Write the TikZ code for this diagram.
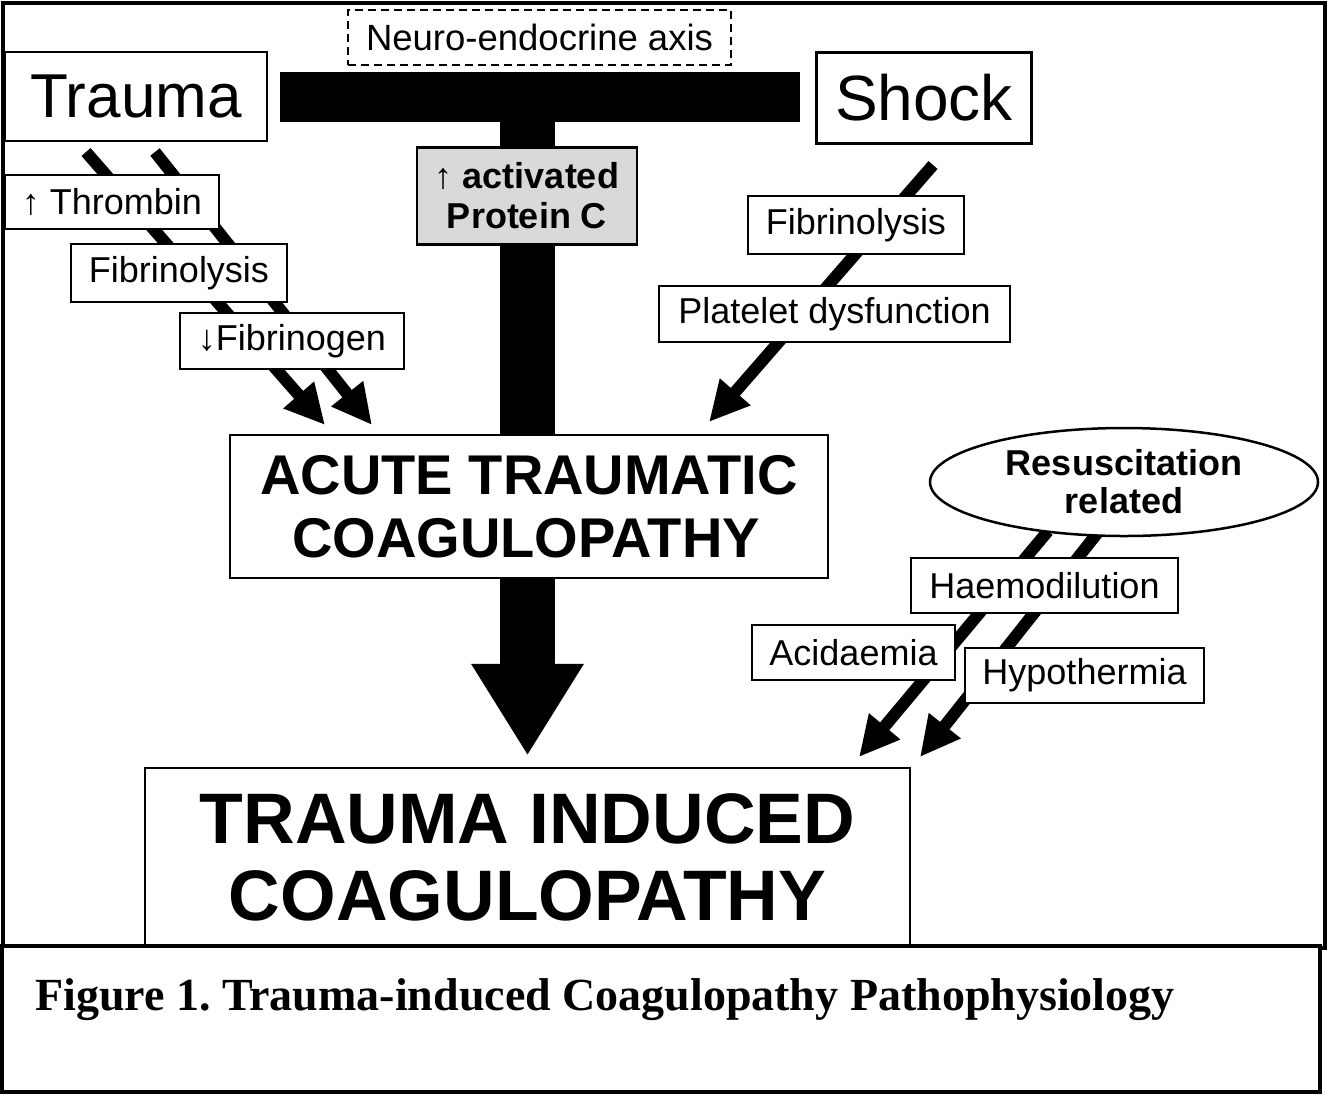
\documentclass[tikz,border=0pt]{standalone}
\usepackage{fontspec}
\setmainfont{Liberation Sans}
\newfontfamily\capfont{Liberation Serif}
\usetikzlibrary{arrows.meta,shapes.geometric,backgrounds}
\frenchspacing

\tikzset{
  box/.style={draw, fill=white, line width=2.5pt, inner sep=0pt, align=center},
  small/.style={box, font=\fontsize{36}{40}\selectfont},
  fatarrow/.style={line width=12pt, -{Triangle[length=40pt,width=38pt]}},
}

\begin{document}
\begin{tikzpicture}[x=1pt, y=-1pt]
  \useasboundingbox (0,0) rectangle (1329,1096);
  \draw[line width=4pt] (3,3) rectangle (1325,948);

  % top row
  \node[box, dash pattern=on 8pt off 5pt, line width=2pt, minimum width=383pt, minimum height=55pt,
        font=\fontsize{36.5}{40}\selectfont] (neuro) at (539.5,37.5) {Neuro-endocrine axis};
  \node[box, minimum width=262pt, minimum height=89pt, font=\fontsize{62}{70}\selectfont] (trauma) at (136,96.5) {Trauma};
  \node[box, minimum width=215pt, minimum height=91pt, font=\fontsize{64}{70}\selectfont] (shock) at (924,98) {Shock};
  \node[fill=black, inner sep=0pt, minimum width=520pt, minimum height=50pt] (axisbar) at (540,97) {};
  \node[box, fill=gray!30, minimum width=220pt, minimum height=97pt,
        font=\bfseries\fontsize{36}{40}\selectfont] (protc) at (527,196) {↑ activated\\Protein C};

  % trauma side
  \node[small, minimum width=214pt, minimum height=54pt] (thrombin) at (112,202) {↑ Thrombin};
  \node[small, minimum width=216pt, minimum height=58pt] (fibl) at (179,273) {Fibrinolysis};
  \node[small, minimum width=224pt, minimum height=56pt] (fibg) at (292,341) {↓Fibrinogen};

  % shock side
  \node[small, minimum width=216pt, minimum height=58pt] (fibr) at (856,225) {Fibrinolysis};
  \node[small, minimum width=351pt, minimum height=56pt] (platelet) at (834.5,314) {Platelet dysfunction};

  \node[box, minimum width=598pt, minimum height=143pt, font=\bfseries\fontsize{56}{63}\selectfont] (acute) at (529,506.5) {ACUTE TRAUMATIC\\COAGULOPATHY\hspace*{6pt}};
  \node[box, minimum width=765pt, minimum height=178pt, font=\bfseries\fontsize{71.5}{77}\selectfont] (induced) at (527.5,857) {TRAUMA INDUCED\\COAGULOPATHY};

  % resuscitation side
  \node[box, ellipse, minimum width=388pt, minimum height=108pt, font=\bfseries\fontsize{36}{38}\selectfont] (resus) at (1124,482) {Resuscitation\\related};
  \node[small, minimum width=267pt, minimum height=55pt] (haemo) at (1044.5,585.5) {Haemodilution};
  \node[small, minimum width=203pt, minimum height=55pt] (acid) at (853.5,652.5) {Acidaemia};
  \node[small, minimum width=239pt, minimum height=55pt] (hypo) at (1084.5,675.5) {Hypothermia};

  % arrow ends
  \coordinate (ta) at (86,152);   \coordinate (tae) at (325,425);
  \coordinate (tb) at (155,152);  \coordinate (tbe) at (372,425);
  \coordinate (sa) at (933,165);  \coordinate (sae) at (709,422);
  \coordinate (ra) at (1048,531); \coordinate (rae) at (859,757);
  \coordinate (rb) at (1099,531); \coordinate (rbe) at (920,757);

  \begin{scope}[on background layer]
    \draw[line width=55pt] (protc |- axisbar.south) -- (protc |- acute.north);
    \draw[line width=55pt, -{Triangle[length=92pt,width=106pt]}, shorten >=11pt]
      (induced.north |- acute.south) -- (induced.north);
    \draw[fatarrow] (ta) -- (tae);
    \draw[fatarrow] (tb) -- (tbe);
    \draw[fatarrow] (sa) -- (sae);
    \draw[fatarrow] (ra) -- (rae);
    \draw[fatarrow] (rb) -- (rbe);
  \end{scope}

  % caption
  \node[draw, fill=white, line width=3.5pt, inner sep=0pt, minimum width=1318pt, minimum height=146pt] (capbox) at (661,1019) {};
  \node[anchor=base west, inner sep=0pt, font=\capfont\bfseries\fontsize{46}{50}\selectfont] (captext) at (35,1010)
    {Figure 1. Trauma-induced Coagulopathy Pathophysiology};
\end{tikzpicture}
\end{document}
